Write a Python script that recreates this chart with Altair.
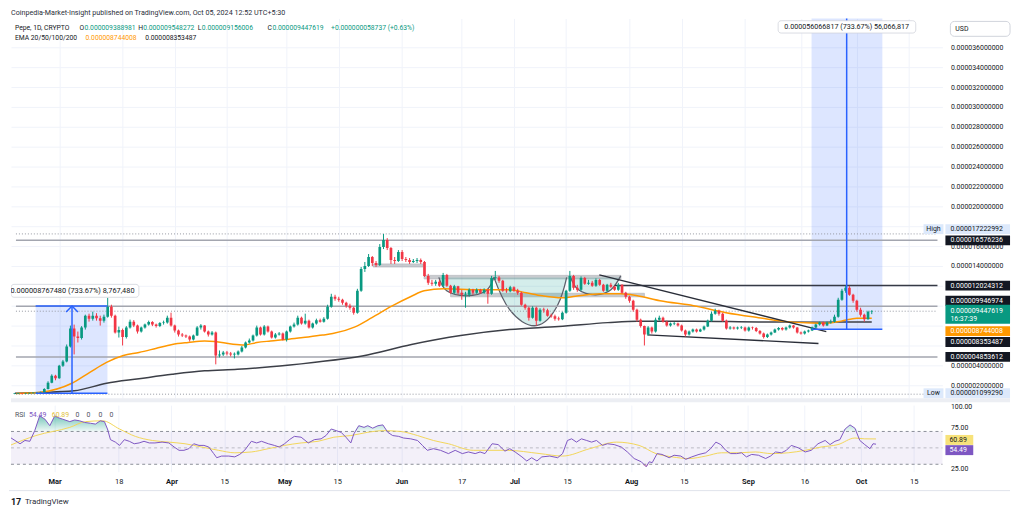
import json
import altair as alt
import numpy as np
import pandas as pd

FONT = "Roboto"
DARK = "#131722"
GREEN = "#089981"
RED = "#f23645"
ORANGE = "#ff9800"
BLUE = "#2962ff"
PURPLE = "#7e57c2"
YELLOW = "#f2d65a"
GRID = "#f0f3fa"

W = 937
H_PRICE = 382
H_RSI = 67
X_DOMAIN = [-11.61, 235.63]        # days relative to 1 Mar 2024
P_DOMAIN = [0.7, 38.9]             # price in 1e-6 USD
R_DOMAIN = [20.9, 102.1]
PX_PER_P = H_PRICE / (P_DOMAIN[1] - P_DOMAIN[0])
PX_PER_R = H_RSI / (R_DOMAIN[1] - R_DOMAIN[0])

# ------------------------------------------------------------------ data
first_day = -12          # 18 Feb 2024
first_open = 1.12
closes = [
    1.15, 1.17, 1.14, 1.18, 1.20, 1.22, 1.25, 1.30, 1.62, 2.25, 2.95, 2.70,
    3.95, 4.40, 5.90, 7.70, 6.90, 6.75, 7.80, 9.00, 8.70, 9.00, 8.75, 8.50, 8.90, 9.90, 9.00, 7.30,
    7.55, 6.85, 7.80, 8.40, 8.00, 7.40, 7.80, 8.10, 8.35, 8.10, 7.95, 8.25, 8.30, 8.80, 8.00,
    7.50, 7.10, 7.00, 6.90, 6.60, 7.00, 7.80, 8.00, 7.40, 7.10, 7.30, 5.00, 5.10, 5.30, 5.20,
    5.10, 5.10, 5.40, 5.80, 6.30, 6.50, 7.00, 7.80, 7.10, 7.90, 7.40, 6.80, 7.10, 7.20, 6.60,
    7.40, 7.90, 8.10, 8.80, 8.20, 8.50, 7.80, 8.20, 8.55, 8.40, 8.70, 9.90, 10.90, 10.70, 10.60,
    10.30, 10.00, 9.80, 9.30, 11.50, 13.70, 14.00, 14.90, 14.30, 14.10, 15.90, 16.60, 15.80, 14.60,
    14.50, 15.40,
    14.70, 14.60, 14.40, 14.50, 14.60, 14.40, 13.00, 12.30, 12.20, 12.40, 12.00, 13.10, 12.00, 11.30,
    11.95, 11.30, 11.10, 11.10, 11.60, 11.30, 11.60, 11.30, 11.60, 11.20, 12.80, 12.85, 12.50, 11.50,
    11.45, 11.85,
    11.50, 11.30, 10.10, 9.80, 8.80, 9.80, 8.50, 9.60, 9.55, 9.00, 8.95, 8.70, 8.65, 9.30, 11.50,
    13.00, 11.80, 11.60, 12.80, 12.20, 12.30, 12.00, 12.60, 12.10, 11.50, 12.10, 11.90, 11.60, 12.10,
    11.30, 10.90,
    10.50, 9.60, 8.60, 7.95, 7.10, 7.80, 7.40, 8.60, 8.80, 8.40, 8.00, 8.20, 8.20, 8.00, 7.50, 7.10,
    7.40, 7.60, 7.40, 7.60, 7.90, 8.50, 9.20, 9.50, 9.20, 8.50, 7.70, 7.80, 7.70, 7.80, 7.80,
    7.50, 7.80, 7.75, 7.45, 7.20, 6.85, 7.10, 7.30, 7.60, 7.75, 7.60, 7.80, 8.00, 7.80, 7.30, 7.20,
    7.40, 7.50, 7.80, 8.10, 8.30, 8.00, 8.30, 8.40, 8.90, 10.60, 11.50, 11.80, 11.10, 10.50,
    9.60, 9.10, 8.65, 9.389, 9.4476,
]
highs = [
    1.18, 1.19, 1.19, 1.20, 1.23, 1.26, 1.29, 1.36, 1.70, 2.40, 3.10, 3.05,
    4.05, 4.55, 6.10, 8.00, 8.10, 7.40, 7.95, 9.10, 9.20, 9.40, 9.25, 9.00, 9.10, 10.80, 10.10, 9.10,
    7.90, 7.70, 7.95, 8.60, 8.55, 8.10, 7.90, 8.20, 8.50, 8.45, 8.20, 8.35, 8.50, 9.00, 9.30,
    8.10, 7.60, 7.25, 7.10, 7.00, 7.10, 7.95, 8.15, 8.05, 7.50, 7.45, 7.40, 5.50, 5.45, 5.45,
    5.35, 5.30, 5.50, 5.95, 6.40, 6.70, 7.10, 8.00, 7.90, 8.05, 8.00, 7.50, 7.25, 7.35, 7.30,
    7.50, 8.00, 8.30, 9.00, 8.90, 9.20, 8.60, 8.30, 8.70, 8.70, 8.85, 10.10, 11.20, 11.10, 10.90,
    10.70, 10.40, 10.20, 9.90, 11.70, 13.90, 14.40, 15.20, 15.00, 14.50, 16.20, 17.22, 16.80, 15.90,
    14.90, 15.60,
    15.60, 14.90, 14.80, 14.70, 14.80, 14.75, 14.50, 13.20, 12.60, 12.60, 12.60, 13.30, 13.20, 12.10,
    12.10, 12.00, 11.60, 11.40, 11.75, 11.70, 11.75, 11.70, 11.75, 11.70, 13.00, 13.50, 13.00, 12.60,
    11.80, 12.00,
    11.95, 11.70, 11.40, 10.20, 9.90, 9.95, 9.90, 9.75, 9.80, 9.70, 9.20, 9.10, 8.90, 9.40, 11.60,
    13.50, 13.10, 12.10, 12.95, 12.90, 12.60, 12.50, 12.75, 12.70, 12.20, 12.20, 12.30, 12.00, 12.30,
    12.15, 11.40,
    11.00, 10.60, 9.70, 8.70, 8.00, 7.95, 7.90, 8.80, 9.00, 8.90, 8.50, 8.30, 8.35, 8.30, 8.10, 7.60,
    7.50, 7.70, 7.70, 7.70, 8.00, 8.60, 9.40, 9.70, 9.60, 9.30, 8.60, 7.95, 7.90, 7.90, 7.95,
    7.90, 7.90, 7.90, 7.85, 7.55, 7.30, 7.20, 7.40, 7.70, 7.85, 7.85, 7.90, 8.10, 8.05, 7.85, 7.40,
    7.50, 7.60, 7.90, 8.20, 8.40, 8.40, 8.40, 8.60, 9.10, 10.80, 11.70, 12.02, 12.00, 11.20,
    10.60, 9.80, 9.20, 9.50, 9.548,
]
lows = [
    1.10, 1.13, 1.10, 1.12, 1.16, 1.18, 1.20, 1.23, 1.28, 1.58, 2.20, 2.50,
    2.65, 3.85, 4.30, 5.80, 5.10, 6.30, 6.60, 7.60, 8.40, 8.50, 8.50, 8.00, 8.30, 8.80, 8.80, 7.20,
    6.80, 6.00, 6.70, 7.70, 7.85, 7.20, 7.30, 7.70, 8.00, 7.95, 7.80, 7.85, 8.10, 8.20, 7.90,
    7.30, 6.90, 6.85, 6.75, 6.40, 6.50, 6.95, 7.60, 7.30, 6.90, 7.00, 4.10, 4.80, 4.95, 5.00,
    4.90, 4.70, 5.00, 5.30, 5.70, 6.20, 6.40, 6.90, 7.00, 7.00, 7.30, 6.70, 6.70, 7.00, 6.50,
    6.40, 7.30, 7.80, 8.00, 8.10, 8.10, 7.70, 7.70, 8.10, 8.30, 8.30, 8.60, 9.80, 10.50, 10.40,
    10.10, 9.80, 9.60, 9.10, 9.20, 11.40, 13.40, 13.90, 14.00, 13.90, 14.00, 15.70, 15.60, 14.20,
    14.20, 14.40,
    14.50, 14.40, 14.20, 14.30, 14.30, 14.20, 12.90, 12.10, 12.00, 12.00, 11.90, 11.90, 11.90, 11.20,
    11.20, 11.10, 10.60, 9.80, 10.90, 11.10, 11.20, 11.20, 11.20, 10.20, 11.10, 12.60, 12.30, 11.40,
    11.30, 11.35,
    11.40, 11.10, 10.00, 9.60, 8.50, 8.70, 8.00, 8.40, 9.30, 8.90, 8.80, 8.50, 8.50, 8.55, 9.20,
    11.40, 11.60, 11.40, 11.50, 12.10, 12.10, 11.90, 11.90, 12.00, 11.40, 11.40, 11.80, 11.50, 11.50,
    11.20, 10.70,
    10.30, 9.40, 8.40, 7.80, 6.00, 7.00, 7.20, 7.30, 8.50, 8.30, 7.90, 7.90, 8.05, 7.90, 7.40, 6.90,
    7.00, 7.30, 7.30, 7.35, 7.50, 7.85, 8.40, 9.10, 9.00, 8.40, 7.60, 7.60, 7.60, 7.60, 7.65,
    7.40, 7.40, 7.60, 7.35, 7.10, 6.70, 6.75, 7.00, 7.25, 7.50, 7.50, 7.50, 7.70, 7.70, 7.20, 7.10,
    7.10, 7.30, 7.45, 7.70, 8.00, 7.90, 7.95, 8.20, 8.30, 8.80, 10.50, 11.30, 11.00, 10.30,
    9.40, 8.90, 8.40, 8.60, 9.156,
]

ema_fast_days = [-11.5, -5.0, 3.4, 8.2, 12.7, 17.2, 21.4, 25.9, 30.3, 34.6, 39.0, 41.7, 46.2, 49.6,
                 53.0, 56.7, 61.0, 65.4, 70.7, 73.4, 79.2, 83.9, 89.2, 94.5, 97.9, 103.2, 107.7,
                 113.7, 120.8, 125.3, 129.6, 134.8, 138.5, 145.4, 150.7, 155.1, 161.2, 170.2,
                 178.9, 187.6, 196.6, 201.8, 205.3, 209.8, 214.0, 218.0]
ema_fast_vals = [1.17, 1.3, 2.2, 3.3, 4.3, 5.0, 5.3, 5.7, 6.1, 6.3, 6.45, 6.4, 6.15, 6.05, 6.3, 6.45,
                 6.6, 6.8, 7.05, 7.2, 7.85, 8.8, 9.95, 10.95, 11.5, 11.7, 11.65, 11.6, 11.6, 11.3,
                 11.0, 10.8, 10.95, 11.2, 11.2, 11.0, 10.5, 10.0, 9.3, 8.8, 8.35, 8.25, 8.23, 8.45,
                 8.75, 8.744]
ema_slow_days = [-11.9, 4.0, 12.7, 21.4, 30.3, 39.0, 47.8, 56.7, 68.1, 81.3, 94.5, 107.7, 120.8,
                 134.0, 147.2, 155.1, 170.2, 187.6, 205.3, 218.0]
ema_slow_vals = [1.2, 1.45, 2.2, 2.65, 3.1, 3.45, 3.6, 3.85, 4.3, 4.95, 6.1, 7.0, 7.6, 7.9, 8.3,
                 8.45, 8.45, 8.37, 8.35, 8.353]

rsi_days = [-11.9, -9.2, -7.9, -6.6, -5.3, -4.0, -2.6, -1.3, 0.0, 0.8, 2.1, 4.0, 5.3, 6.6, 7.9, 9.5,
            10.8, 12.1, 13.2, 14.0, 14.8, 16.1, 17.2, 18.5, 19.8, 21.1, 22.4, 23.7, 25.1, 26.6,
            28.5, 30.3, 31.7, 33.0, 34.3, 35.6, 36.9, 38.3, 39.6, 40.9, 42.2, 43.0, 44.3, 46.2,
            47.8, 49.1, 50.4, 52.2, 53.6, 54.9, 56.7, 58.3, 59.6, 61.0, 62.3, 63.6, 65.4, 67.3,
            68.9, 70.7, 72.0, 73.4, 74.7, 76.0, 77.3, 78.6, 79.4, 80.7, 82.1, 83.1, 84.4, 85.8,
            87.1, 88.4, 89.7, 91.3, 92.6, 94.5, 96.3, 97.6, 98.9, 100.5, 102.4, 104.5, 106.3,
            108.2, 109.8, 111.6, 112.9, 114.2, 116.1, 117.7, 119.5, 120.8, 122.2, 124.0, 125.3,
            126.6, 128.0, 129.3, 131.4, 133.5, 134.8, 136.1, 137.2, 138.5, 139.8, 141.2, 142.5,
            143.8, 145.4, 146.7, 148.5, 150.4, 152.0, 153.8, 155.7, 157.0, 157.8, 158.6, 159.9,
            161.2, 163.1, 164.4, 166.2, 167.5, 169.1, 171.0, 172.8, 174.1, 175.5, 176.8, 178.1,
            179.4, 181.0, 182.3, 183.6, 185.0, 186.8, 188.7, 190.0, 191.3, 192.9, 194.2, 195.5,
            197.4, 199.2, 200.8, 202.6, 204.5, 205.8, 207.1, 208.4, 209.8, 211.1, 212.4, 213.7,
            215.0, 216.4, 217.2, 218.0]
rsi_vals = [63, 55, 59, 58, 71, 89, 85, 77, 89, 87, 85, 82, 84, 83, 81, 80, 79, 83, 82, 73,
            60, 57, 53, 60, 58, 55, 56, 58, 56, 56, 57, 56, 51, 47, 47, 49, 55, 53, 53, 51,
            43, 38, 40, 40, 39, 42, 47, 58, 56, 58, 55, 53, 51, 55, 60, 64, 63, 56, 60, 61,
            65, 73, 71, 69, 63, 56, 67, 77, 75, 77, 74, 77, 78, 69, 65, 64, 62, 61, 59, 53,
            47, 49, 47, 43, 47, 43, 45, 43, 45, 43, 55, 54, 46, 49, 45, 39, 34, 38, 34, 39,
            40, 38, 43, 59, 61, 57, 61, 59, 57, 59, 53, 55, 54, 51, 45, 37, 33, 27, 33, 32,
            43, 42, 38, 41, 40, 36, 39, 42, 44, 49, 57, 54, 47, 43, 43, 44, 39, 42, 41, 37,
            40, 45, 44, 47, 53, 50, 45, 47, 55, 59, 54, 58, 60, 73, 78, 74, 59, 54, 49, 55, 54.49]
rsi_ma_days = [-11.9, -5.0, 4.0, 8.2, 12.7, 17.2, 21.4, 25.9, 30.3, 34.6, 39.0, 43.5, 47.8, 52.2,
               56.7, 61.0, 65.4, 69.9, 74.1, 78.6, 83.1, 87.3, 91.8, 96.3, 100.5, 104.5, 111.1,
               120.1, 128.8, 134.8, 142.0, 149.1, 155.1, 159.6, 163.9, 168.3, 172.8, 177.0,
               181.5, 186.0, 190.2, 194.7, 199.2, 203.4, 207.9, 212.4, 215.0, 218.0]
rsi_ma_vals = [53, 65, 75, 82, 83, 73, 64, 59, 57, 55, 51, 47, 44, 45, 49, 53, 56, 58, 63, 65,
               69, 71, 70, 65, 59, 55, 47, 47, 43, 40, 49, 57, 53, 43, 39, 37, 40, 44, 44, 45,
               43, 44, 47, 51, 54, 62, 61, 60.89]

tick_days = [0, 17, 31, 45, 61, 75, 92, 108, 122, 136, 153, 167, 184, 199, 214, 228]
tick_labels = ["Mar", "18", "Apr", "15", "May", "15", "Jun", "17", "Jul", "15", "Aug", "15",
               "Sep", "16", "Oct", "15"]
month_days = [0, 31, 61, 92, 122, 153, 184, 214]
price_ticks = [2, 4, 6, 8, 10, 12, 14, 16, 18, 20, 22, 24, 26, 28, 30, 32, 34, 36]
hidden_price_labels = [6, 8, 10, 18]
rsi_ticks = [25, 75, 100]

# horizontal levels
level_solid = [16.576236, 9.946974, 4.853612]
level_dotted = [17.222992, 9.447619, 1.099290]
resist_level = 12.024312
resist_from = 149.0

# measurement tools
meas_d1 = [-6.33, 201.85]
meas_d2 = [12.93, 220.84]
meas_lo = [1.195, 7.642]
meas_hi = [9.962, 63.70]
meas_mid = [3.43, 211.27]
chevron_days = [1.85, 3.43, 5.01]
chevron_vals = [9.36, 9.962, 9.36]
meas_text = ["0.000008767480 (733.67%) 8,767,480", "0.000056066817 (733.67%) 56,066,817"]

# cup & handle drawing
cup_ids = [1] * 5 + [2] * 5 + [3] * 5
cup_days = [101.85, 103.96, 109.23, 114.51, 116.62,
            116.62, 120.84, 127.97, 133.77, 136.15,
            137.2, 139.31, 143.8, 148.02, 150.66]
cup_vals = [12.85, 11.5, 11.0, 11.5, 12.85,
            12.85, 9.6, 8.0, 10.1, 12.85,
            12.85, 11.6, 11.1, 11.6, 13.0]
band_d1 = [84.2, 97.9, 105.0]
band_d2 = [97.6, 150.7, 157.0]
band_lo = [13.9, 12.7, 10.9]
band_hi = [14.2, 13.05, 11.25]
trend_ids = [1, 1, 2, 2]
trend_days = [144.9, 205.8, 157.8, 203.7]
trend_vals = [13.1, 7.4, 7.07, 6.2]

# right-hand price tags
tag_vals = [17.222992, 16.576236, 12.024312, 9.946974, 8.744008, 8.353487, 4.853612, 1.099290]
tag_bg = ["#dde9fb", DARK, DARK, DARK, ORANGE, DARK, DARK, "#dde9fb"]
tag_fg = [DARK, "#ffffff", "#ffffff", "#ffffff", "#ffffff", "#ffffff", "#ffffff", DARK]
tag_shift_px = [-4.8, 0, 0, -5.5, 13, 20, 0, -0.9]
last_price = 9.447619
rsi_tag_vals = [60.89, 54.49]
rsi_tag_bg = ["#f7e27a", PURPLE]
rsi_tag_fg = [DARK, "#ffffff"]
rsi_tag_shift_px = [1, 6]

# ------------------------------------------------------------------ scales / axes
xs = alt.Scale(domain=X_DOMAIN, nice=False, zero=False)
ps = alt.Scale(domain=P_DOMAIN, nice=False, zero=False)
rs = alt.Scale(domain=R_DOMAIN, nice=False, zero=False)

x_grid_axis = alt.Axis(values=tick_days, labels=False, ticks=False, domain=False, grid=True,
                       gridColor=GRID, title=None, minExtent=0, maxExtent=0)
lab_expr = f"{json.dumps(tick_labels)}[indexof({json.dumps(tick_days)}, datum.value)]"
x_axis_rsi = alt.Axis(values=tick_days, labelExpr=lab_expr, ticks=False, domain=False, grid=True,
                      gridColor=GRID, title=None, labelPadding=6, labelFontSize=7.5,
                      labelColor=DARK, labelFlush=False, labelFont=FONT,
                      labelFontWeight={"condition": {"test": f"indexof({json.dumps(month_days)}, datum.value) >= 0",
                                                     "value": "bold"}, "value": "normal"})
p_axis = alt.Axis(orient="right", values=price_ticks,
                  labelExpr=f"indexof({json.dumps(hidden_price_labels)}, datum.value) >= 0 ? '' : format(datum.value * 1e-6, '.12f')",
                  grid=True, gridColor=GRID, ticks=False, domain=False, labelPadding=8, title=None,
                  labelFontSize=7, labelColor=DARK, labelFont=FONT)
r_axis = alt.Axis(orient="right", values=rsi_ticks, labelExpr="format(datum.value, '.2f')",
                  grid=False, ticks=False, domain=False, labelPadding=8, title=None,
                  labelFontSize=7, labelColor=DARK, labelFont=FONT)


def PX(f):
    return alt.X(f"{f}:Q", scale=xs, axis=x_grid_axis)


def PY(f):
    return alt.Y(f"{f}:Q", scale=ps, axis=p_axis, stack=None)


def RX(f):
    return alt.X(f"{f}:Q", scale=xs, axis=x_axis_rsi)


def RY(f):
    return alt.Y(f"{f}:Q", scale=rs, axis=r_axis, stack=None)


def ui_text(txt, px, py, color=DARK, size=7, weight="normal", align="left"):
    return alt.Chart(pd.DataFrame({"t": [txt]})).mark_text(
        align=align, baseline="middle", fontSize=size, fontWeight=weight, color=color, font=FONT
    ).encode(x=alt.value(px), y=alt.value(py), text="t:N")


# ------------------------------------------------------------------ price panel
days = list(range(first_day, first_day + len(closes)))
opens = [first_open] + closes[:-1]
cdf = pd.DataFrame({"day": days, "open": opens, "close": closes, "high": highs, "low": lows})
cdf["top"] = cdf[["open", "close"]].max(axis=1)
cdf["bot"] = cdf[["open", "close"]].min(axis=1)
thin = (cdf["top"] - cdf["bot"]) < 0.06
cdf.loc[thin, "top"] = cdf.loc[thin, "bot"] + 0.06
cdf["col"] = np.where(cdf["close"] >= cdf["open"], GREEN, RED)

wicks = alt.Chart(cdf).mark_rule(strokeWidth=1, clip=True).encode(
    x=PX("day"), y=PY("low"), y2="high", color=alt.Color("col:N", scale=None))
bodies = alt.Chart(cdf).mark_bar(size=2.7, clip=True).encode(
    x=PX("day"), y=PY("bot"), y2="top", color=alt.Color("col:N", scale=None))

mdf = pd.DataFrame({"d1": meas_d1, "d2": meas_d2, "lo": meas_lo, "hi": meas_hi, "mid": meas_mid})
meas_rect = alt.Chart(mdf).mark_rect(color=BLUE, opacity=0.16, clip=True).encode(
    x=PX("d1"), x2="d2", y=PY("lo"), y2="hi")
meas_h = pd.DataFrame({"d1": meas_d1 * 2, "d2": meas_d2 * 2, "v": meas_lo + meas_hi})
meas_hlines = alt.Chart(meas_h).mark_rule(color=BLUE, strokeWidth=1.5, clip=True).encode(
    x=PX("d1"), x2="d2", y=PY("v"))
meas_vline = alt.Chart(mdf).mark_rule(color=BLUE, strokeWidth=1.5, clip=True).encode(
    x=PX("mid"), y=PY("lo"), y2="hi")
chev = alt.Chart(pd.DataFrame({"day": chevron_days, "v": chevron_vals})).mark_line(
    color=BLUE, strokeWidth=1.5, clip=True).encode(x=PX("day"), y=PY("v"))

bdf = pd.DataFrame({"d1": band_d1, "d2": band_d2, "lo": band_lo, "hi": band_hi})
bands = alt.Chart(bdf).mark_rect(color="#9598a1", opacity=0.5, stroke="#787b86", strokeWidth=0.8,
                                 clip=True).encode(x=PX("d1"), x2="d2", y=PY("lo"), y2="hi")

cupdf = pd.DataFrame({"cup": cup_ids, "day": cup_days, "v": cup_vals})
cupdf["rim"] = cupdf.groupby("cup")["v"].transform("first")
cup_fill = alt.Chart(cupdf).mark_area(color="#26a69a", opacity=0.2, interpolate="natural",
                                      clip=True).encode(
    x=PX("day"), y=PY("v"), y2="rim", detail="cup:N")
cup_line = alt.Chart(cupdf).mark_line(color="#5d606b", strokeWidth=1.3, interpolate="natural",
                                      clip=True).encode(x=PX("day"), y=PY("v"), detail="cup:N")

ldf = pd.DataFrame({"v": level_solid, "d1": [X_DOMAIN[0]] * 3, "d2": [X_DOMAIN[1]] * 3})
lvl_solid = alt.Chart(ldf).mark_rule(color="#a3a6af", strokeWidth=1.5).encode(
    x=PX("d1"), x2="d2", y=PY("v"))
ddf = pd.DataFrame({"v": level_dotted, "d1": [X_DOMAIN[0]] * 3, "d2": [X_DOMAIN[1]] * 3})
lvl_dot = alt.Chart(ddf).mark_rule(color="#9598a1", strokeWidth=1, strokeDash=[1, 2]).encode(
    x=PX("d1"), x2="d2", y=PY("v"))
rdf_ = pd.DataFrame({"v": [resist_level], "d1": [resist_from], "d2": [X_DOMAIN[1]]})
lvl_res = alt.Chart(rdf_).mark_rule(color="#363a45", strokeWidth=1.5).encode(
    x=PX("d1"), x2="d2", y=PY("v"))

ema_f = alt.Chart(pd.DataFrame({"day": ema_fast_days, "v": ema_fast_vals})).mark_line(
    color=ORANGE, strokeWidth=1.5, interpolate="monotone", clip=True).encode(x=PX("day"), y=PY("v"))
ema_s = alt.Chart(pd.DataFrame({"day": ema_slow_days, "v": ema_slow_vals})).mark_line(
    color="#3c3f47", strokeWidth=1.5, interpolate="monotone", clip=True).encode(x=PX("day"), y=PY("v"))

tdf = pd.DataFrame({"id": trend_ids, "day": trend_days, "v": trend_vals})
trend = alt.Chart(tdf).mark_line(color="#2a2e39", strokeWidth=1.4, clip=True).encode(
    x=PX("day"), y=PY("v"), detail="id:N")

# measurement labels
lab_box = pd.DataFrame({"d1": [-12.93, 192.88], "d2": [21.37, 229.8], "lo": [10.85, 37.43],
                        "hi": [12.15, 38.67]})
meas_lab_box = alt.Chart(lab_box).mark_rect(fill="#ffffff", stroke="#d1d4dc", strokeWidth=0.8,
                                            cornerRadius=3, clip=True).encode(
    x=PX("d1"), x2="d2", y=PY("lo"), y2="hi")
lab_txt = pd.DataFrame({"day": [20.2, 211.27], "v": [11.5, 38.05], "t": meas_text})
meas_lab_l = alt.Chart(lab_txt.iloc[[0]]).mark_text(align="right", baseline="middle", fontSize=7.4,
                                                     color=DARK, font=FONT, clip=True).encode(
    x=PX("day"), y=PY("v"), text="t:N")
meas_lab_r = alt.Chart(lab_txt.iloc[[1]]).mark_text(align="center", baseline="middle", fontSize=7.2,
                                                     color=DARK, font=FONT).encode(
    x=PX("day"), y=PY("v"), text="t:N")

# right price tags
tg = pd.DataFrame({"v": tag_vals, "bg": tag_bg, "fg": tag_fg, "shift": tag_shift_px})
tg["disp"] = tg["v"] - tg["shift"] / PX_PER_P
tg["top"] = tg["disp"] + 5 / PX_PER_P
tg["bot"] = tg["disp"] - 5 / PX_PER_P
tg["t"] = [f"{v * 1e-6:.12f}" for v in tg["v"]]
tag_rect = alt.Chart(tg).mark_rect().encode(
    x=alt.value(940), x2=alt.value(1005), y=PY("bot"), y2="top", color=alt.Color("bg:N", scale=None))
tag_text = alt.Chart(tg).mark_text(align="left", baseline="middle", fontSize=7, font=FONT).encode(
    x=alt.value(945), y=PY("disp"), text="t:N", color=alt.Color("fg:N", scale=None))
hl = tg.iloc[[0, 7]].copy()
hl["name"] = ["High", "Low"]
hl_rect = alt.Chart(hl).mark_rect(color="#dde9fb").encode(
    x=alt.value(918), x2=alt.value(938), y=PY("bot"), y2="top")
hl_text = alt.Chart(hl).mark_text(align="center", baseline="middle", fontSize=7, font=FONT,
                                  color=DARK).encode(x=alt.value(928), y=PY("disp"), text="name:N")
cur = pd.DataFrame({"v": [last_price], "top": [last_price + 6.5 / PX_PER_P],
                    "bot": [last_price - 12.5 / PX_PER_P], "l2": [last_price - 8 / PX_PER_P],
                    "t": [f"{last_price * 1e-6:.12f}"], "t2": ["16:37:39"]})
cur_rect = alt.Chart(cur).mark_rect(color=GREEN).encode(
    x=alt.value(940), x2=alt.value(1005), y=PY("bot"), y2="top")
cur_t1 = alt.Chart(cur).mark_text(align="left", baseline="middle", fontSize=7, font=FONT,
                                  color="#ffffff").encode(x=alt.value(945), y=PY("v"), text="t:N")
cur_t2 = alt.Chart(cur).mark_text(align="left", baseline="middle", fontSize=7, font=FONT,
                                  color="#ffffff").encode(x=alt.value(945), y=PY("l2"), text="t2:N")

usd_box = alt.Chart(pd.DataFrame({"a": [0]})).mark_rect(fill="#ffffff", stroke="#d1d4dc",
                                                        cornerRadius=4).encode(
    x=alt.value(945), x2=alt.value(1005), y=alt.value(3), y2=alt.value(18))
sep = alt.Chart(pd.DataFrame({"a": [0]})).mark_rule(color="#eceef3", strokeWidth=4).encode(
    x=alt.value(0), x2=alt.value(1005), y=alt.value(H_PRICE + 2))

info1 = [("Pepe, 1D, CRYPTO", 4, DARK), ("O", 69, DARK), ("0.000009388981", 74, GREEN),
         ("H", 128, DARK), ("0.000009548272", 133, GREEN), ("L", 188, DARK),
         ("0.000009156006", 192, GREEN), ("C", 258, DARK), ("0.000009447619", 263, GREEN),
         ("+0.000000058737 (+0.63%)", 322, GREEN)]
info2 = [("EMA 20/50/100/200", 4, DARK), ("0.000008744008", 75, ORANGE),
         ("0.000008353487", 135, DARK)]
texts = [ui_text("Coinpedia-Market-Insight published on TradingView.com, Oct 05, 2024 12:52 UTC+5:30",
                 0, -5, "#2a2e39", 7.2)]
texts += [ui_text(t, x, 9.3, c, 6.8) for t, x, c in info1]
texts += [ui_text(t, x, 19.3, c, 6.8) for t, x, c in info2]
texts.append(ui_text("USD", 950, 10.5, DARK, 7))

price = alt.layer(
    meas_rect, bands, cup_fill, cup_line, lvl_solid, lvl_dot, lvl_res, ema_s, ema_f, trend,
    wicks, bodies, meas_hlines, meas_vline, chev, meas_lab_box, meas_lab_l, meas_lab_r,
    tag_rect, tag_text, hl_rect, hl_text, cur_rect, cur_t1, cur_t2, usd_box, sep, *texts
).properties(width=W, height=H_PRICE)

# ------------------------------------------------------------------ RSI panel
rdf = pd.DataFrame({"day": rsi_days, "rsi": rsi_vals})
rdf["ob"] = np.maximum(rdf["rsi"], 70)
rdf["l70"] = 70
rdf["os"] = np.minimum(rdf["rsi"], 30)
rdf["l30"] = 30

band = alt.Chart(pd.DataFrame({"a": [70], "b": [30]})).mark_rect(color=PURPLE, opacity=0.09).encode(
    x=alt.value(0), x2=alt.value(W), y=RY("a"), y2="b")
dash = alt.Chart(pd.DataFrame({"v": [70, 50, 30], "op": [0.85, 0.45, 0.85]})).mark_rule(
    color="#787b86", strokeDash=[3, 3], strokeWidth=1).encode(
    x=alt.value(0), x2=alt.value(W), y=RY("v"), opacity=alt.Opacity("op:Q", scale=None))
grad_g = alt.Gradient(gradient="linear", x1=0, x2=0, y1=0, y2=1,
                      stops=[alt.GradientStop(color="rgba(8,153,129,0.55)", offset=0),
                             alt.GradientStop(color="rgba(8,153,129,0.06)", offset=1)])
grad_r = alt.Gradient(gradient="linear", x1=0, x2=0, y1=0, y2=1,
                      stops=[alt.GradientStop(color="rgba(242,54,69,0.06)", offset=0),
                             alt.GradientStop(color="rgba(242,54,69,0.5)", offset=1)])
ob = alt.Chart(rdf).mark_area(color=grad_g, clip=True).encode(x=RX("day"), y=RY("ob"), y2="l70")
osd = alt.Chart(rdf).mark_area(color=grad_r, clip=True).encode(x=RX("day"), y=RY("l30"), y2="os")
rsi_ma = alt.Chart(pd.DataFrame({"day": rsi_ma_days, "v": rsi_ma_vals})).mark_line(
    color=YELLOW, strokeWidth=1, interpolate="monotone", clip=True).encode(x=RX("day"), y=RY("v"))
rsi_line = alt.Chart(rdf).mark_line(color=PURPLE, strokeWidth=1, clip=True).encode(
    x=RX("day"), y=RY("rsi"))

rt = pd.DataFrame({"v": rsi_tag_vals, "bg": rsi_tag_bg, "fg": rsi_tag_fg, "shift": rsi_tag_shift_px})
rt["disp"] = rt["v"] - rt["shift"] / PX_PER_R
rt["top"] = rt["disp"] + 5 / PX_PER_R
rt["bot"] = rt["disp"] - 5 / PX_PER_R
rt["t"] = [f"{v:.2f}" for v in rt["v"]]
rtag_rect = alt.Chart(rt).mark_rect().encode(
    x=alt.value(940), x2=alt.value(968), y=RY("bot"), y2="top", color=alt.Color("bg:N", scale=None))
rtag_text = alt.Chart(rt).mark_text(align="left", baseline="middle", fontSize=7, font=FONT).encode(
    x=alt.value(944), y=RY("disp"), text="t:N", color=alt.Color("fg:N", scale=None))

rtexts = [ui_text("RSI", 4, 9.7, "#50535e", 7), ui_text("54.49", 18, 9.7, PURPLE, 7),
          ui_text("60.89", 41, 9.7, "#e2c23c", 7)]
rtexts += [ui_text("0", x, 9.7, "#50535e", 7) for x in [65, 76, 88, 99]]
bottom_rule = alt.Chart(pd.DataFrame({"a": [0]})).mark_rule(color="#e0e3eb", strokeWidth=1).encode(
    x=alt.value(-2), x2=alt.value(1005), y=alt.value(86))
rtexts += [ui_text("17", 0, 97, DARK, 9, "bold"), ui_text("TradingView", 14, 97, "#2a2e39", 8)]

rsi = alt.layer(band, dash, ob, osd, rsi_ma, rsi_line, rtag_rect, rtag_text, bottom_rule,
                *rtexts).properties(width=W, height=H_RSI)

chart = alt.vconcat(price, rsi, spacing=0).properties(
    padding={"left": 0, "top": 0, "right": 4, "bottom": 2}
).configure(font=FONT).configure_view(stroke=None)

chart.save("out.html", embed_options={"renderer": "svg", "actions": False})
